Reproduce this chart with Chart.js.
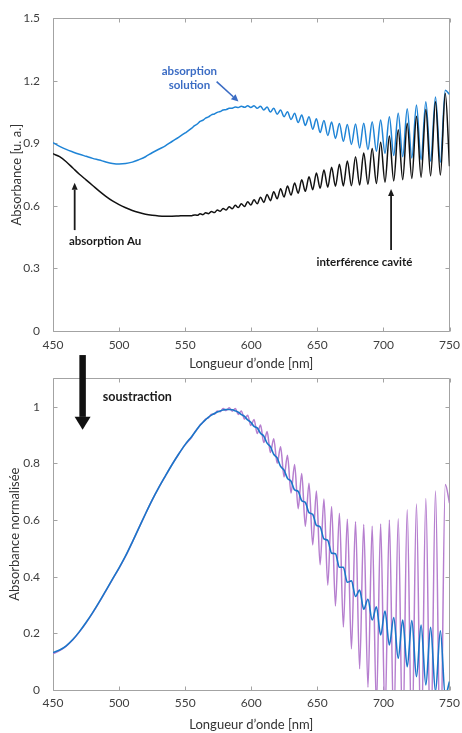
<!DOCTYPE html>
<html>
<head>
<meta charset="utf-8">
<script src="https://cdn.jsdelivr.net/npm/chart.js@4.4.0/dist/chart.umd.min.js"></script>
<style>
  html, body { margin: 0; padding: 0; background: #fff; }
  #wrap { position: relative; width: 462px; height: 733px; overflow: hidden; }
  .panel { position: absolute; left: 0; width: 462px; }
  #topPanel { top: 0; height: 372px; }
  #bottomPanel { top: 340px; height: 393px; }
</style>
</head>
<body>
<div id="wrap">
  <div class="panel" id="topPanel"><canvas id="topChart" width="462" height="372"></canvas></div>
  <div class="panel" id="bottomPanel"><canvas id="bottomChart" width="462" height="393"></canvas></div>
</div>
<script>
// wavelength (nm): smooth part every 5 nm, then the fringe maxima / minima
var waveNm = [
  450, 455, 460, 465, 470, 475, 480, 485, 490, 495,
  500, 505, 510, 515, 520, 525, 530, 535, 540, 545,
  550, 555.0, 557.1, 559.2, 561.3, 563.4, 565.5, 567.7, 569.9, 572.1,
  574.3, 576.5, 578.7, 581.0, 583.3, 585.6, 587.9, 590.2, 592.5, 594.9,
  597.3, 599.7, 602.1, 604.5, 607.0, 609.5, 612.0, 614.5, 617.0, 619.6,
  622.2, 624.8, 627.4, 630.1, 632.8, 635.5, 638.2, 640.9, 643.7, 646.5,
  649.3, 652.1, 655.0, 657.9, 660.8, 663.7, 666.7, 669.7, 672.7, 675.8,
  678.9, 682.0, 685.1, 688.3, 691.5, 694.7, 697.9, 701.2, 704.5, 707.8,
  711.2, 714.6, 718.0, 721.5, 725.0, 728.5, 732.1, 735.7, 739.4, 743.1,
  746.8, 750
];

// top panel, black curve (Au + cavity)
var absCavity = [
  0.850, 0.836, 0.812, 0.782, 0.752, 0.725, 0.698, 0.671, 0.646, 0.624,
  0.606, 0.591, 0.578, 0.568, 0.560, 0.555, 0.552, 0.551, 0.551, 0.552,
  0.553, 0.553, 0.557, 0.555, 0.562, 0.558, 0.567, 0.563, 0.573, 0.568,
  0.580, 0.574, 0.588, 0.580, 0.596, 0.586, 0.603, 0.592, 0.611, 0.597,
  0.620, 0.604, 0.630, 0.610, 0.642, 0.617, 0.655, 0.625, 0.668, 0.634,
  0.682, 0.643, 0.695, 0.652, 0.710, 0.661, 0.725, 0.670, 0.740, 0.678,
  0.758, 0.685, 0.772, 0.690, 0.786, 0.694, 0.800, 0.696, 0.816, 0.697,
  0.836, 0.700, 0.854, 0.704, 0.876, 0.708, 0.905, 0.714, 0.935, 0.720,
  0.965, 0.726, 0.996, 0.732, 1.030, 0.738, 1.062, 0.744, 1.100, 0.748,
  1.140, 0.790
];

// top panel, blue curve (solution)
var absSolution = [
  0.903, 0.886, 0.871, 0.859, 0.848, 0.838, 0.828, 0.820, 0.811, 0.804,
  0.801, 0.803, 0.810, 0.822, 0.836, 0.855, 0.872, 0.888, 0.909, 0.929,
  0.950, 0.973, 0.985, 0.993, 1.005, 1.011, 1.021, 1.027, 1.037, 1.041,
  1.049, 1.053, 1.060, 1.062, 1.068, 1.069, 1.074, 1.072, 1.078, 1.073,
  1.080, 1.072, 1.080, 1.068, 1.078, 1.060, 1.074, 1.050, 1.068, 1.040,
  1.060, 1.028, 1.052, 1.014, 1.044, 1.000, 1.036, 0.986, 1.028, 0.968,
  1.018, 0.952, 1.010, 0.938, 1.002, 0.924, 0.995, 0.910, 0.990, 0.895,
  0.993, 0.878, 0.996, 0.870, 1.004, 0.862, 1.012, 0.852, 1.028, 0.842,
  1.044, 0.836, 1.066, 0.830, 1.084, 0.822, 1.100, 0.815, 1.122, 0.810,
  1.155, 1.135
];

// bottom panel, purple curve (after subtraction)
var normRaw = [
  0.128, 0.139, 0.155, 0.177, 0.205, 0.237, 0.272, 0.310, 0.350, 0.390,
  0.430, 0.473, 0.522, 0.572, 0.622, 0.670, 0.714, 0.755, 0.795, 0.832,
  0.866, 0.893, 0.909, 0.921, 0.935, 0.944, 0.956, 0.961, 0.973, 0.973,
  0.985, 0.982, 0.993, 0.986, 0.996, 0.984, 0.993, 0.972, 0.985, 0.956,
  0.970, 0.933, 0.955, 0.905, 0.935, 0.873, 0.912, 0.838, 0.887, 0.800,
  0.858, 0.752, 0.828, 0.695, 0.796, 0.640, 0.764, 0.578, 0.730, 0.512,
  0.702, 0.442, 0.674, 0.370, 0.648, 0.296, 0.624, 0.222, 0.603, 0.145,
  0.594, 0.075, 0.584, 0.010, 0.578, -0.060, 0.586, -0.100, 0.600, -0.140,
  0.604, -0.180, 0.636, -0.200, 0.656, -0.220, 0.676, -0.240, 0.702, -0.260,
  0.725, 0.660
];

// bottom panel, blue curve (corrected)
var normCorrected = [
  0.132, 0.141, 0.156, 0.178, 0.206, 0.238, 0.273, 0.311, 0.351, 0.391,
  0.431, 0.474, 0.522, 0.572, 0.622, 0.670, 0.714, 0.755, 0.795, 0.832,
  0.866, 0.895, 0.908, 0.922, 0.934, 0.945, 0.954, 0.963, 0.970, 0.976,
  0.981, 0.985, 0.988, 0.990, 0.990, 0.989, 0.985, 0.980, 0.972, 0.966,
  0.953, 0.945, 0.930, 0.925, 0.906, 0.896, 0.871, 0.859, 0.832, 0.819,
  0.789, 0.776, 0.747, 0.737, 0.706, 0.701, 0.668, 0.662, 0.626, 0.620,
  0.581, 0.576, 0.533, 0.528, 0.483, 0.481, 0.433, 0.433, 0.380, 0.385,
  0.330, 0.353, 0.285, 0.320, 0.247, 0.294, 0.194, 0.279, 0.159, 0.256,
  0.112, 0.247, 0.082, 0.245, 0.047, 0.229, 0.018, 0.221, -0.005, 0.209,
  -0.020, 0.030
];

var xTicks = [450, 500, 550, 600, 650, 700, 750];
var topYTicks = [0, 0.3, 0.6, 0.9, 1.2, 1.5];
var bottomYTicks = [0, 0.2, 0.4, 0.6, 0.8, 1];

Chart.defaults.font.family = 'Lato, "Open Sans", sans-serif';

function series(values) {
  return waveNm.map(function (w, i) { return { x: w, y: values[i] }; });
}

// box round the plot with inward ticks on the four sides (matlab style)
var framePlugin = {
  id: 'frame',
  beforeDatasetsDraw: function (chart) {
    var ctx = chart.ctx, a = chart.chartArea, xs = chart.scales.x, ys = chart.scales.y;
    var L = Math.round(a.left) + 0.5, R = Math.round(a.right) - 0.5;
    var T = Math.round(a.top) + 0.5, B = Math.round(a.bottom) + 0.5;
    var len = 4;
    ctx.save();
    ctx.strokeStyle = '#a3a3a3';
    ctx.lineWidth = 1;
    ctx.beginPath();
    ctx.rect(L, T, R - L, B - T);
    xs.ticks.forEach(function (t) {
      var px = Math.round(xs.getPixelForValue(t.value)) + 0.5;
      ctx.moveTo(px, B); ctx.lineTo(px, B - len);
      ctx.moveTo(px, T); ctx.lineTo(px, T + len);
    });
    ys.ticks.forEach(function (t) {
      var py = Math.round(ys.getPixelForValue(t.value)) + 0.5;
      ctx.moveTo(L, py); ctx.lineTo(L + len, py);
      ctx.moveTo(R, py); ctx.lineTo(R - len, py);
    });
    ctx.stroke();
    ctx.restore();
  }
};

function drawArrow(ctx, x1, y1, x2, y2, a) {
  var ang = Math.atan2(y2 - y1, x2 - x1);
  var bx = x2 - Math.cos(ang) * a.headLen, by = y2 - Math.sin(ang) * a.headLen;
  ctx.strokeStyle = a.color;
  ctx.fillStyle = a.color;
  ctx.lineWidth = a.width;
  ctx.lineCap = 'butt';
  ctx.beginPath();
  ctx.moveTo(x1, y1);
  ctx.lineTo(bx, by);
  ctx.stroke();
  var nx = -Math.sin(ang) * a.headW / 2, ny = Math.cos(ang) * a.headW / 2;
  ctx.beginPath();
  ctx.moveTo(x2, y2);
  ctx.lineTo(bx + nx, by + ny);
  ctx.lineTo(bx - nx, by - ny);
  ctx.closePath();
  ctx.fill();
}

function makeNotes(spec) {
  return {
    id: 'notes',
    afterDatasetsDraw: function (chart) {
      var ctx = chart.ctx, xs = chart.scales.x, ys = chart.scales.y;
      ctx.save();
      spec.arrows.forEach(function (a) {
        drawArrow(ctx, xs.getPixelForValue(a.from[0]), ys.getPixelForValue(a.from[1]),
          xs.getPixelForValue(a.to[0]), ys.getPixelForValue(a.to[1]), a);
      });
      spec.labels.forEach(function (l) {
        ctx.font = l.font;
        ctx.fillStyle = l.color;
        ctx.textAlign = 'center';
        ctx.textBaseline = 'middle';
        ctx.fillText(l.text, xs.getPixelForValue(l.at[0]), ys.getPixelForValue(l.at[1]));
      });
      ctx.restore();
    }
  };
}

function makeChart(id, o) {
  return new Chart(document.getElementById(id), {
    type: 'line',
    data: {
      // first dataset is drawn on top
      datasets: o.datasets.map(function (d) {
        return {
          data: series(d.values),
          borderColor: d.color,
          borderWidth: d.width,
          pointRadius: 0,
          cubicInterpolationMode: 'monotone',
          fill: false
        };
      })
    },
    options: {
      responsive: false,
      animation: false,
      devicePixelRatio: 1,
      layout: { padding: { top: o.padTop, right: 12.5, left: 0, bottom: 0 } },
      plugins: { legend: { display: false }, tooltip: { enabled: false } },
      scales: {
        x: {
          type: 'linear', min: 450, max: 750,
          afterBuildTicks: function (s) { s.ticks = xTicks.map(function (v) { return { value: v }; }); },
          afterFit: function (s) { s.height = o.xAxisHeight; },
          grid: { display: false },
          border: { display: false },
          ticks: { color: '#404040', font: { size: 12 }, padding: o.xTickPad, maxRotation: 0, autoSkip: false,
            callback: function (v) { return String(v); } },
          title: { display: true, text: 'Longueur d’onde [nm]', color: '#333', font: { size: 13 },
            padding: { top: 0, bottom: o.xTitlePad } }
        },
        y: {
          min: 0, max: o.yMax,
          afterBuildTicks: function (s) { s.ticks = o.yTicks.map(function (v) { return { value: v }; }); },
          afterFit: function (s) { s.width = 53; },
          grid: { display: false },
          border: { display: false },
          ticks: { color: '#404040', font: { size: 12 }, padding: 5,
            callback: function (v) { return String(+v.toFixed(1)); } },
          title: { display: true, text: o.yTitle, color: '#333', font: { size: 13 },
            padding: { top: o.yTitlePad, bottom: 0 } }
        }
      }
    },
    plugins: [framePlugin, makeNotes(o.notes)]
  });
}

var boldNote = 'bold 11.5px Lato, sans-serif';

makeChart('topChart', {
  padTop: 18.3, xAxisHeight: 41, xTickPad: -1, xTitlePad: 0, yTitlePad: 9,
  yMax: 1.5, yTicks: topYTicks, yTitle: 'Absorbance [u. a.]',
  datasets: [
    { values: absCavity, color: '#111111', width: 1.5 },
    { values: absSolution, color: '#1f84d6', width: 1.5 }
  ],
  notes: {
    labels: [
      { text: 'absorption', at: [553.2, 1.247], font: boldNote, color: '#3b6cc4' },
      { text: 'solution', at: [553.2, 1.180], font: boldNote, color: '#3b6cc4' },
      { text: 'absorption Au', at: [489.4, 0.432], font: boldNote, color: '#1a1a1a' },
      { text: 'interférence cavité', at: [685.6, 0.328], font: boldNote, color: '#1a1a1a' }
    ],
    arrows: [
      { from: [573.8, 1.196], to: [590.3, 1.101], width: 1.6, headLen: 7, headW: 7, color: '#3b6cc4' },
      { from: [466.4, 0.484], to: [466.4, 0.711], width: 1.8, headLen: 7, headW: 6, color: '#1a1a1a' },
      { from: [705.8, 0.389], to: [705.8, 0.681], width: 1.8, headLen: 7, headW: 6, color: '#1a1a1a' }
    ]
  }
});

makeChart('bottomChart', {
  padTop: 38.3, xAxisHeight: 43, xTickPad: -2, xTitlePad: 0, yTitlePad: 7,
  yMax: 1.1, yTicks: bottomYTicks, yTitle: 'Absorbance normalisée',
  datasets: [
    { values: normCorrected, color: '#1a76c9', width: 1.6 },
    { values: normRaw, color: '#b67fcf', width: 1.5 }
  ],
  notes: {
    labels: [
      { text: 'soustraction', at: [513.8, 1.033], font: 'bold 12.5px Lato, sans-serif', color: '#1a1a1a' }
    ],
    arrows: [
      { from: [472.4, 1.182], to: [472.4, 0.918], width: 6.5, headLen: 13, headW: 16, color: '#111111' }
    ]
  }
});
</script>
</body>
</html>
